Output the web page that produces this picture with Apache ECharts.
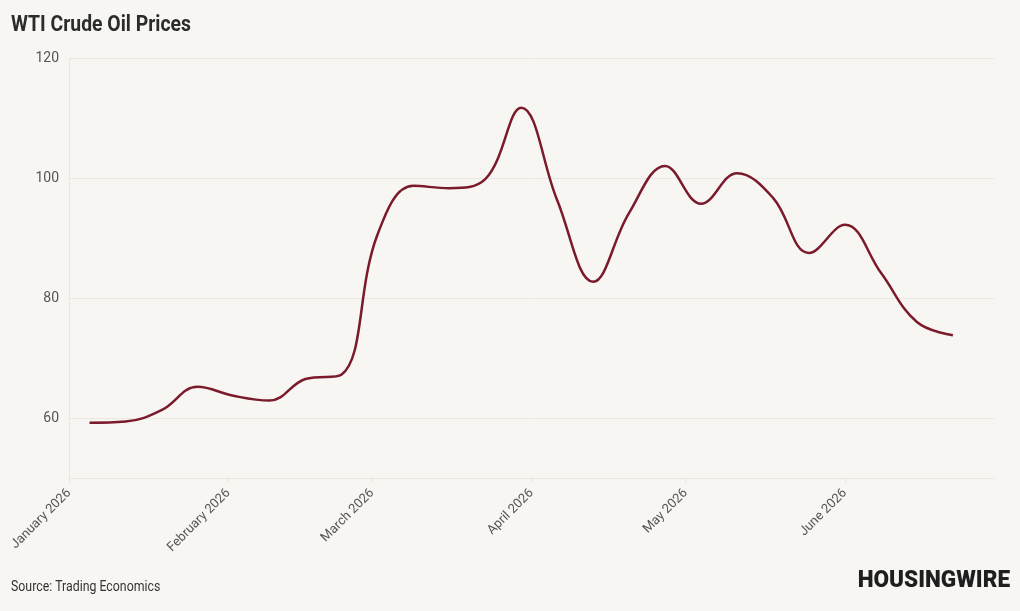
<!DOCTYPE html>
<html>
<head>
<meta charset="utf-8">
<title>WTI Crude Oil Prices</title>
<script src="https://cdn.jsdelivr.net/npm/echarts@6/dist/echarts.min.js"></script>
<style>
  html, body { margin: 0; padding: 0; background: #f8f6f3; }
  #main { width: 1020px; height: 611px; }
</style>
</head>
<body>
<div id="main"></div>
<script>
// weekly WTI prices (USD/bbl)
var dates = [
    '2026-01-05', '2026-01-12', '2026-01-19', '2026-01-26',
    '2026-02-02', '2026-02-09', '2026-02-16', '2026-02-23',
    '2026-03-02', '2026-03-09', '2026-03-16', '2026-03-23', '2026-03-30',
    '2026-04-06', '2026-04-13', '2026-04-20', '2026-04-27',
    '2026-05-04', '2026-05-11', '2026-05-18', '2026-05-25',
    '2026-06-01', '2026-06-08', '2026-06-15', '2026-06-22'
];
var prices = [
    59.2, 59.4, 61.3, 65.2,
    63.7, 62.9, 66.5, 67.2,
    90.5, 98.7, 98.3, 99.8, 111.7,
    96.3, 82.7, 94.2, 102.0,
    95.7, 100.8, 96.7, 87.5,
    92.2, 84.2, 76.0, 73.8
];
var monthNames = ['January', 'February', 'March', 'April', 'May', 'June',
    'July', 'August', 'September', 'October', 'November', 'December'];
var yTicks = [60, 80, 100, 120];

var seriesData = dates.map(function (d, i) {
    return [d, prices[i]];
});

var myChart = echarts.init(document.getElementById('main'));

var font = 'Roboto, sans-serif';
// reference uses a condensed face, so squeeze the free texts a bit
var squeeze = 0.88;

option = {
    backgroundColor: '#f8f6f3',
    animation: false,
    grid: {
        left: 69,
        right: 26,
        top: 58,
        bottom: 133
    },
    xAxis: {
        type: 'time',
        min: new Date(2026, 0, 1).getTime(),
        max: new Date(2026, 5, 30).getTime(),
        splitNumber: 6,
        axisLine: { show: true, lineStyle: { color: '#ebe8e3' } },
        axisTick: {
            show: true,
            length: 4,
            lineStyle: { color: '#e6e2dc' }
        },
        splitLine: { show: false },
        axisLabel: {
            rotate: 45,
            margin: 13,
            color: '#555',
            fontFamily: font,
            fontSize: 13,
            hideOverlap: false,
            formatter: function (val) {
                var d = new Date(val);
                return monthNames[d.getMonth()] + ' ' + d.getFullYear();
            }
        }
    },
    yAxis: {
        type: 'value',
        min: 50,
        max: 120,
        axisLine: { show: true, lineStyle: { color: '#ebe8e3' } },
        axisTick: { show: false, customValues: yTicks },
        splitLine: { show: true, lineStyle: { color: '#ebe8e3' } },
        axisLabel: {
            customValues: yTicks,
            margin: 10,
            color: '#555',
            fontFamily: font,
            fontSize: 14
        }
    },
    graphic: [{
        type: 'text',
        x: 11,
        y: 14,
        scaleX: squeeze,
        style: {
            text: 'WTI Crude Oil Prices',
            fill: '#2b2b2b',
            font: 'bold 22px ' + font,
            verticalAlign: 'top'
        }
    }, {
        type: 'text',
        x: 11,
        y: 580,
        scaleX: squeeze,
        style: {
            text: 'Source: Trading Economics',
            fill: '#333',
            font: '14px ' + font,
            verticalAlign: 'top'
        }
    }, {
        type: 'text',
        x: 1010,
        y: 569,
        scaleX: 0.94,
        style: {
            text: 'HOUSINGWIRE',
            fill: '#1e1e1e',
            font: '900 24px ' + font,
            align: 'right',
            verticalAlign: 'top'
        }
    }],
    series: [{
        name: 'WTI',
        type: 'line',
        data: seriesData,
        smooth: 0.4,
        showSymbol: false,
        lineStyle: {
            color: '#7a1a2b',
            width: 2.5
        }
    }]
};

myChart.setOption(option);
</script>
</body>
</html>
